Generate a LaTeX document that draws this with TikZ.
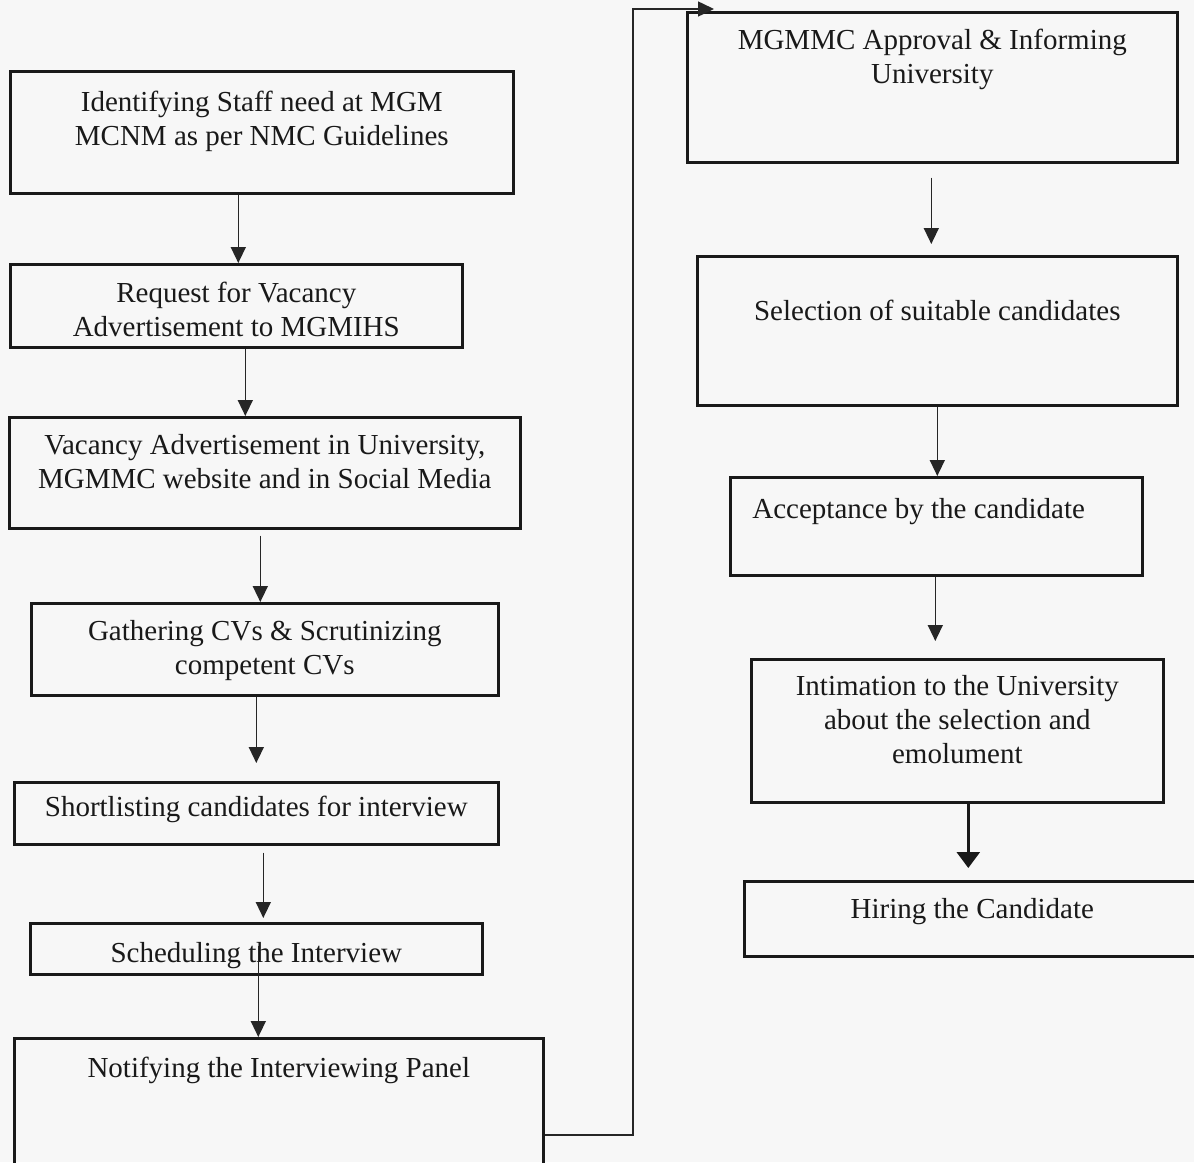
\documentclass[tikz,border=0pt]{standalone}
\usepackage{fontspec}
\setmainfont{Liberation Serif}
\usepackage{tikz}
\usetikzlibrary{arrows.meta}
\tikzset{>=latex}
\tikzset{
stage/.style={draw=black!90, line width=1.3pt, anchor=north west, inner sep=0pt},
caption/.style={font=\fontsize{14.5}{17}\selectfont, text=black!90, align=center, anchor=north, inner sep=0pt},
flow/.style={draw=black!85, line width=0.75pt, -{Triangle[length=8pt,width=7.5pt]}},
bigflow/.style={draw=black!90, line width=1.4pt, -{Triangle[length=8pt,width=11.5pt]}}
}

\begin{document}
\begin{tikzpicture}[x=0.5pt, y=-0.5pt]
\fill[black!3] (0,0) rectangle (1194,1162);
\useasboundingbox (0,0) rectangle (1194,1162);

% left column
\node[stage, minimum width=251.5pt, minimum height=61pt] (ident) at (9,70) {};
\node[stage, minimum width=226pt, minimum height=41.5pt] (request) at (9,263) {};
\node[stage, minimum width=255.5pt, minimum height=55.5pt] (advert) at (8,416) {};
\node[stage, minimum width=233.5pt, minimum height=46pt] (gather) at (30,602) {};
\node[stage, minimum width=242pt, minimum height=31pt] (short) at (13,781) {};
\node[stage, minimum width=226pt, minimum height=25.5pt] (sched) at (29,922) {};
\node[stage, minimum width=264.5pt, minimum height=65pt] (notify) at (13,1037) {};

% right column
\node[stage, minimum width=245pt, minimum height=75pt] (approve) at (686,11) {};
\node[stage, minimum width=240pt, minimum height=74.5pt] (select) at (696,255) {};
\node[stage, minimum width=206pt, minimum height=49pt] (accept) at (729,476) {};
\node[stage, minimum width=206pt, minimum height=71.5pt] (intim) at (750,658) {};
\node[stage, minimum width=228pt, minimum height=37.5pt] (hire) at (743,880) {};

% texts
\node[caption] (ident-t) at ([yshift=-10.5pt]ident.north) {Identifying Staff need at MGM\\MCNM as per NMC Guidelines};
\node[caption] (request-t) at ([yshift=-9.5pt]request.north) {Request for Vacancy\\Advertisement to MGMIHS};
\node[caption] (advert-t) at ([yshift=-9pt]advert.north) {Vacancy Advertisement in University,\\MGMMC website and in Social Media};
\node[caption] (gather-t) at ([yshift=-9pt]gather.north) {Gathering CVs \& Scrutinizing\\competent CVs};
\node[caption] (short-t) at ([yshift=-7.5pt]short.north) {Shortlisting candidates for interview};
\node[caption] (sched-t) at ([yshift=-10pt]sched.north) {Scheduling the Interview};
\node[caption] (notify-t) at ([yshift=-10pt]notify.north) {Notifying the Interviewing Panel};
\node[caption] (approve-t) at ([yshift=-9pt]approve.north) {MGMMC Approval \& Informing\\University};
\node[caption] (select-t) at ([yshift=-22.5pt]select.north) {Selection of suitable candidates};
\node[caption, anchor=north west] (accept-t) at ([xshift=11.5pt, yshift=-11pt]accept.north west) {Acceptance by the candidate};
\node[caption] (intim-t) at ([yshift=-8.5pt]intim.north) {Intimation to the University\\about the selection and\\emolument};
\node[caption] (hire-t) at ([yshift=-9pt]hire.north) {Hiring the Candidate};

% connectors
\draw[flow] ([xshift=-11.75pt]ident.south) -- ([xshift=1pt]request.north);
\draw[flow] ([xshift=4.5pt]request.south) -- ([xshift=-9.75pt]advert.north);
\draw[flow, shorten <=3pt] ([xshift=-2.25pt]advert.south) -- ([xshift=-2.25pt]gather.north);
\draw[flow, shorten >=9pt] ([xshift=-4.25pt]gather.south) -- (short.north);
\draw[flow, shorten <=3.5pt, shorten >=2pt] ([xshift=3.5pt]short.south) -- ([xshift=3.5pt]sched.north);
\draw[flow, shorten <=-15pt] ([xshift=1pt]sched.south) -- ([xshift=-10.25pt]notify.north);

\coordinate (out) at (notify.east |- 0,1135);
\coordinate (turn) at (633,9);
\draw[flow] (out) -| (turn) -- ([xshift=14pt, yshift=1pt]approve.north west);

\draw[flow, shorten <=7pt, shorten >=5.5pt] ([xshift=-0.5pt]approve.south) -- ([xshift=-3pt]select.north);
\draw[flow] (select.south) -- ([xshift=0.5pt]accept.north);
\draw[flow, shorten >=8.5pt] ([xshift=-0.5pt]accept.south) -- ([xshift=-11pt]intim.north);
\draw[bigflow, shorten >=6pt] ([xshift=5.5pt]intim.south) -- ([xshift=-2pt]hire.north);
\end{tikzpicture}
\end{document}
